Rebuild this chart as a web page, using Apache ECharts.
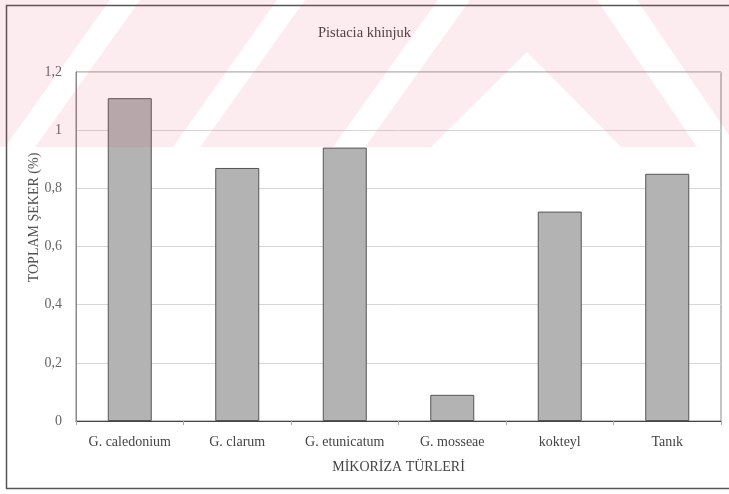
<!DOCTYPE html>
<html>
<head>
<meta charset="utf-8">
<script src="https://cdn.jsdelivr.net/npm/echarts@6/dist/echarts.min.js"></script>
<style>
html,body{margin:0;padding:0;background:#fff;}
#main{width:729px;height:494px;}
</style>
</head>
<body>
<div id="main"></div>
<script>
// mikoriza türleri ve toplam şeker değerleri
var categories = ['G. caledonium', 'G. clarum', 'G. etunicatum', 'G. mosseae', 'kokteyl', 'Tanık'];
var values = [1.11, 0.87, 0.94, 0.09, 0.72, 0.85];
var yTicks = [0, 0.2, 0.4, 0.6, 0.8, 1, 1.2];

var font = 'Liberation Serif';

// arka plandaki pembe filigran şeritleri
function pinkPoly(points) {
    return {
        type: 'polygon',
        silent: true,
        z: 100,
        shape: { points: points },
        style: { fill: 'rgba(235,70,100,0.10)' }
    };
}
var watermark = [
    pinkPoly([[0, 0], [110, 0], [5, 147], [0, 147]]),
    pinkPoly([[140, 0], [277, 0], [173, 147], [35, 147]]),
    pinkPoly([[305, 0], [438, 0], [333, 147], [200, 147]]),
    pinkPoly([[470, 0], [597, 0], [697, 147], [621, 147], [527, 52], [431, 147], [365, 147]]),
    pinkPoly([[637, 0], [729, 0], [729, 147], [737, 147]])
];

var myChart = echarts.init(document.getElementById('main'));
var option = {
    animation: false,
    backgroundColor: '#fff',
    title: {
        text: 'Pistacia khinjuk',
        left: 'center',
        top: 21,
        textStyle: { fontFamily: font, fontSize: 14.5, fontWeight: 'normal', color: '#444' }
    },
    grid: {
        left: 76, right: 8, top: 72, bottom: 73,
        show: true,
        borderColor: '#888',
        borderWidth: 1
    },
    xAxis: {
        type: 'category',
        data: categories,
        name: 'MİKORİZA TÜRLERİ',
        nameLocation: 'middle',
        nameGap: 39,
        nameMoveOverlap: false,
        nameTextStyle: { fontFamily: font, fontSize: 14, color: '#444' },
        axisLine: { lineStyle: { color: '#444', width: 1 } },
        axisTick: { show: true, length: 4, lineStyle: { color: '#aaa' } },
        axisLabel: { fontFamily: font, fontSize: 14, color: '#444', margin: 14 }
    },
    yAxis: {
        type: 'value',
        min: yTicks[0],
        max: yTicks[yTicks.length - 1],
        interval: 0.2,
        name: 'TOPLAM ŞEKER (%)',
        nameLocation: 'middle',
        nameGap: 35,
        nameMoveOverlap: false,
        nameTextStyle: { fontFamily: font, fontSize: 14, color: '#555', padding: [0, 0, 0, 58] },
        axisLine: { show: true, lineStyle: { color: '#888' } },
        axisTick: { show: false },
        axisLabel: {
            fontFamily: font, fontSize: 14, color: '#666', margin: 14,
            formatter: function (v) { return String(+v.toFixed(1)).replace('.', ','); }
        },
        splitLine: { lineStyle: { color: '#d6d6d6', width: 1 } }
    },
    series: [{
        type: 'bar',
        data: values,
        barWidth: 44,
        itemStyle: { color: '#b3b3b3', borderColor: '#555', borderWidth: 1 }
    }],
    graphic: [{
        type: 'rect',
        silent: true,
        shape: { x: 6.5, y: 5.5, width: 730, height: 483 },
        style: { fill: 'none', stroke: '#555', lineWidth: 1.5 }
    }].concat(watermark)
};
myChart.setOption(option);
</script>
</body>
</html>
